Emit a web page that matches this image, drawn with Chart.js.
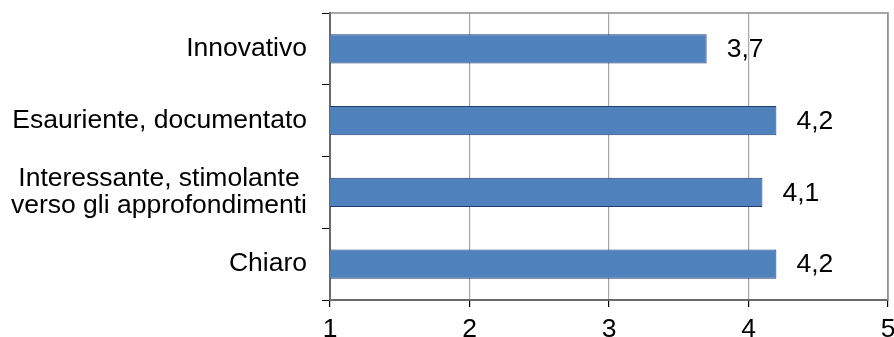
<!DOCTYPE html>
<html>
<head>
<meta charset="utf-8">
<script src="https://cdn.jsdelivr.net/npm/chart.js@4"></script>
<style>
  html, body { margin: 0; padding: 0; background: #fff; }
  #wrap { width: 894px; height: 337px; }
</style>
</head>
<body>
<div id="wrap"><canvas id="barChart"></canvas></div>
<script>

const categories = [
  "Innovativo",
  "Esauriente, documentato",
  ["Interessante, stimolante ", "verso gli approfondimenti"],
  "Chiaro"
];
const scores = [3.7, 4.2, 4.1, 4.2];
const xTicks = [1, 2, 3, 4, 5];

const FONT = "'Liberation Sans', Arial, sans-serif";

// gray frame around the plot, the axes are drawn over it in black
const frame = {
  id: "frame",
  beforeDatasetsDraw(chart) {
    const a = chart.chartArea, ctx = chart.ctx;
    ctx.save();
    ctx.strokeStyle = "#8c8c8c";
    ctx.lineWidth = 1.5;
    ctx.strokeRect(a.left, a.top, a.right - a.left, a.bottom - a.top);
    ctx.restore();
  }
};

// value next to the end of each bar, with a decimal comma
const valueLabels = {
  id: "valueLabels",
  afterDatasetsDraw(chart) {
    const ctx = chart.ctx;
    const meta = chart.getDatasetMeta(0);
    ctx.save();
    ctx.font = "26.5px " + FONT;
    ctx.fillStyle = "#000";
    ctx.textAlign = "left";
    ctx.textBaseline = "middle";
    meta.data.forEach((bar, i) => {
      const txt = scores[i].toFixed(1).replace(".", ",");
      ctx.fillText(txt, bar.x + 20, bar.y + 1);
    });
    ctx.restore();
  }
};

function createBarChart(labels, values) {
  const canvas = document.getElementById("barChart");

  new Chart(canvas, {
    type: "bar",
    data: {
      labels: labels,
      datasets: [{
        data: values,
        backgroundColor: "#4f81bd",
        borderColor: "#1f3d6e",
        borderWidth: 1,
        borderSkipped: false,
        barPercentage: 0.405,
        categoryPercentage: 1
      }]
    },
    options: {
      indexAxis: "y",
      responsive: true,
      maintainAspectRatio: false,
      animation: false,
      layout: { padding: { left: 5, top: 13, right: 0, bottom: 0 } },
      plugins: {
        legend: { display: false },
        tooltip: { enabled: false }
      },
      scales: {
        x: {
          min: xTicks[0],
          max: xTicks[xTicks.length - 1],
          afterBuildTicks: s => { s.ticks = xTicks.map(v => ({ value: v })); },
          // labels sit low and the last one runs off the right edge
          afterFit: s => { s.height = 37; s.paddingRight = 6; },
          grid: {
            color: "#a6a6a6",
            lineWidth: 1.2,
            tickColor: "#000",
            tickLength: 7
          },
          border: { color: "#000", width: 2 },
          ticks: {
            color: "#000",
            padding: 9,
            font: { family: FONT, size: 26.5, lineHeight: 1.0 }
          }
        },
        y: {
          offset: true,
          afterFit: s => { s.width = 325; s.paddingTop = 0; s.paddingBottom = 0; },
          grid: {
            offset: true,
            drawOnChartArea: false,
            tickColor: "#000",
            tickLength: 8
          },
          border: { color: "#000", width: 2 },
          ticks: {
            color: "#000",
            padding: 15,
            font: { family: FONT, size: 26.5, lineHeight: 1.0 }
          }
        }
      }
    },
    plugins: [frame, valueLabels]
  });
}

createBarChart(categories, scores);
</script>
</body>
</html>
